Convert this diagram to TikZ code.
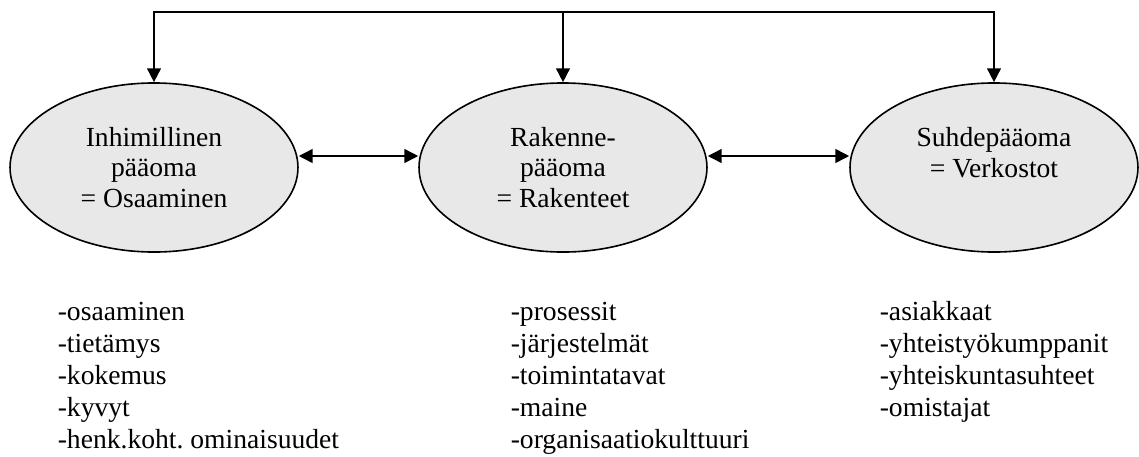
\documentclass[tikz,border=0pt]{standalone}
\usepackage{fontspec}
\setmainfont{Liberation Serif}
\usetikzlibrary{arrows.meta,shapes.geometric}
\definecolor{vaalea}{RGB}{232,232,232}

\begin{document}
\begin{tikzpicture}[x=0.4348pt, y=-0.4348pt, line width=0.7pt,
    >={Triangle[length=6pt,width=6pt]},
    paaoma/.style={ellipse, draw, fill=vaalea, minimum width=125.2pt, minimum height=73.5pt,
        inner sep=0pt, align=center, font=\fontsize{12}{13.3}\selectfont},
    lista/.style={anchor=base west, align=left, inner sep=0pt, font=\fontsize{12}{13.9}\selectfont}]
    \useasboundingbox (0,0) rectangle (1139,456);

    % 定义坐标
    \coordinate (yla) at (563,12);

    % 三个椭圆
    \node[paaoma] (inh) at (154,167.5) {Inhimillinen\\pääoma\\= Osaaminen};
    \node[paaoma] (rak) at (563,167.5) {Rakenne-\\pääoma\\= Rakenteet};
    \node[paaoma] (suh) at (994,167.5) {Suhdepääoma\\= Verkostot\\\mbox{}};

    % 上方连线
    \draw[->] (yla) -| (inh.north);
    \draw[->] (yla) -| (suh.north);
    \draw[->] (yla) -- (rak.north);

    % 双向箭头
    \draw[<->] ([yshift=5pt]inh.east) -- ([yshift=5pt]rak.west);
    \draw[<->] ([yshift=5pt]rak.east) -- ([yshift=5pt]suh.west);

    % 列表 (基线 = 最后一行)
    \node[lista] (inhlista) at (57,448) {-osaaminen\\-tietämys\\-kokemus\\-kyvyt\\-henk.koht.\ ominaisuudet};
    \node[lista] (raklista) at (510,448) {-prosessit\\-järjestelmät\\-toimintatavat\\-maine\\-organisaatiokulttuuri};
    \node[lista] (suhlista) at (879,416) {-asiakkaat\\-yhteistyökumppanit\\-yhteiskuntasuhteet\\-omistajat};
\end{tikzpicture}
\end{document}
